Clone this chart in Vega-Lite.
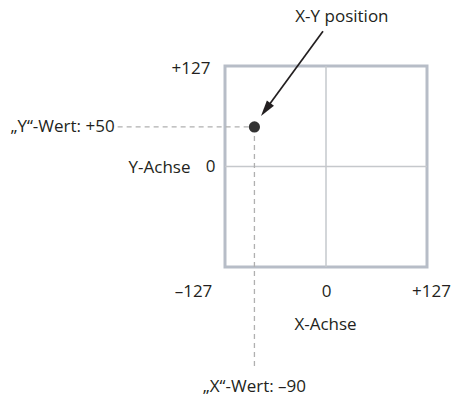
{
  "$schema": "https://vega.github.io/schema/vega-lite/v6.json",
  "width": 202,
  "height": 201,
  "autosize": {"type": "none"},
  "padding": {"left": 225, "top": 66, "right": 26, "bottom": 129},
  "background": "white",
  "config": {
    "view": {"stroke": "#b7bdc7", "strokeWidth": 3},
    "font": "Open Sans",
    "text": {"font": "Open Sans", "fontSize": 17, "color": "#231f20"}
  },
  "datasets": {
    "point": [{"x": -90, "y": 50}],
    "guides": [
      {"guide": "Y-Wert", "x": -262, "x2": -90, "y": 50, "y2": 50},
      {"guide": "X-Wert", "x": -90, "x2": -90, "y": 50, "y2": -257}
    ],
    "arrow": [{"x": -3.8, "y": 171, "x2": -75.8, "y2": 72}],
    "labels": [
      {"label": "„Y“-Wert: +50", "x": -262, "y": 50, "pos": "left"},
      {"label": "„X“-Wert: –90", "x": -90, "y": -279, "pos": "center"},
      {"label": "X-Y position", "x": 20, "y": 189, "pos": "center"}
    ]
  },
  "layer": [
    {
      "data": {"values": [{"x": 0}]},
      "mark": {"type": "rule", "color": "#c5c8cc", "strokeWidth": 1.5},
      "encoding": {
        "x": {
          "field": "x", "type": "quantitative",
          "scale": {"domain": [-127, 127], "nice": false, "zero": false},
          "axis": {
            "values": [-127, 0, 127],
            "title": "X-Achse",
            "domain": false, "ticks": false, "tickSize": 0, "grid": false,
            "labelFont": "Open Sans", "labelFontSize": 17, "labelColor": "#231f20",
            "labelPadding": 24, "labelBaseline": "middle", "labelAlign": "center",
            "labelFlush": false, "labelOverlap": false,
            "labelExpr": "datum.value < 0 ? '–127' : datum.value > 0 ? '+127' : '0'",
            "labelOffset": {"condition": [{"test": "datum.value < 0", "value": -32}, {"test": "datum.value > 0", "value": 4}], "value": 0},
            "titleFont": "Open Sans", "titleFontSize": 17, "titleFontWeight": "normal", "titleColor": "#231f20",
            "titleAlign": "center", "titleBaseline": "middle", "titleX": 100, "titleY": 57
          }
        }
      }
    },
    {
      "data": {"values": [{"y": 0}]},
      "mark": {"type": "rule", "color": "#c5c8cc", "strokeWidth": 1.5},
      "encoding": {
        "y": {
          "field": "y", "type": "quantitative",
          "scale": {"domain": [-127, 127], "nice": false, "zero": false},
          "axis": {
            "values": [127, 0],
            "title": "Y-Achse",
            "domain": false, "ticks": false, "tickSize": 0, "grid": false,
            "labelFont": "Open Sans", "labelFontSize": 17, "labelColor": "#231f20",
            "labelBaseline": "middle", "labelFlush": false, "labelOverlap": false,
            "labelExpr": "datum.value > 0 ? '+127' : '0'",
            "labelPadding": {"condition": {"test": "datum.value > 0", "value": 15}, "value": 10},
            "labelOffset": {"condition": {"test": "datum.value > 0", "value": 2}, "value": 0},
            "titleFont": "Open Sans", "titleFontSize": 17, "titleFontWeight": "normal", "titleColor": "#231f20",
            "titleAngle": 0, "titleAlign": "right", "titleBaseline": "middle", "titleX": -35, "titleY": 101
          }
        }
      }
    },
    {
      "data": {"name": "guides"},
      "mark": {"type": "rule", "color": "#b0b0b0", "strokeWidth": 1.3, "strokeDash": [5, 4]},
      "encoding": {
        "x": {"field": "x", "type": "quantitative"},
        "x2": {"field": "x2"},
        "y": {"field": "y", "type": "quantitative"},
        "y2": {"field": "y2"}
      }
    },
    {
      "data": {"name": "arrow"},
      "mark": {"type": "rule", "color": "#231f20", "strokeWidth": 1.7},
      "encoding": {
        "x": {"field": "x", "type": "quantitative"},
        "x2": {"field": "x2"},
        "y": {"field": "y", "type": "quantitative"},
        "y2": {"field": "y2"}
      }
    },
    {
      "data": {"name": "arrow"},
      "mark": {"type": "point", "shape": "M0,1L-0.55,-1L0.55,-1Z", "filled": true, "color": "#231f20", "opacity": 1, "size": 256, "angle": 36},
      "encoding": {
        "x": {"field": "x2", "type": "quantitative"},
        "y": {"field": "y2", "type": "quantitative"}
      }
    },
    {
      "data": {"name": "point"},
      "mark": {"type": "circle", "size": 125, "color": "#333333", "opacity": 1},
      "encoding": {
        "x": {"field": "x", "type": "quantitative"},
        "y": {"field": "y", "type": "quantitative"}
      }
    },
    {
      "data": {"name": "labels"},
      "transform": [{"filter": "datum.pos == 'left'"}],
      "mark": {"type": "text", "align": "right", "baseline": "middle", "dx": -3},
      "encoding": {
        "x": {"field": "x", "type": "quantitative"},
        "y": {"field": "y", "type": "quantitative"},
        "text": {"field": "label"}
      }
    },
    {
      "data": {"name": "labels"},
      "transform": [{"filter": "datum.pos == 'center'"}],
      "mark": {"type": "text", "align": "center", "baseline": "middle"},
      "encoding": {
        "x": {"field": "x", "type": "quantitative"},
        "y": {"field": "y", "type": "quantitative"},
        "text": {"field": "label"}
      }
    }
  ]
}
